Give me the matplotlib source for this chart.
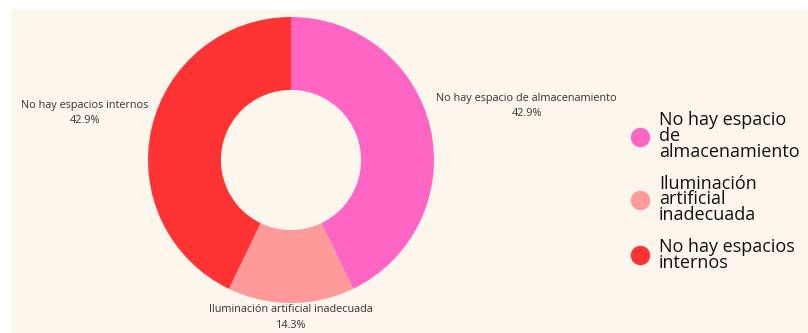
import numpy as np
import matplotlib
matplotlib.use("Agg")
import matplotlib.pyplot as plt
from matplotlib.lines import Line2D

categories = ["No hay espacio de almacenamiento",
              "Iluminación artificial inadecuada",
              "No hay espacios internos"]
legend_labels = ["No hay espacio\nde\nalmacenamiento",
                 "Iluminación\nartificial\ninadecuada",
                 "No hay espacios\ninternos"]
values = [42.9, 14.3, 42.9]
colors = ["#FF66C4", "#FF9A9A", "#FF3333"]
label_dist = [1.69, 1.10, 1.48]

bg = "#FDF6EC"
plt.rcParams['font.family'] = ['Open Sans', 'DejaVu Sans']

fig = plt.figure(figsize=(8.08, 3.33), dpi=100)
fig.patch.set_facecolor("white")

# cream panel behind everything
bgax = fig.add_axes([11 / 808, 0, 1 - 11 / 808, 323 / 333], zorder=-1)
bgax.set_facecolor(bg)
bgax.set_xticks([])
bgax.set_yticks([])
for s in bgax.spines.values():
    s.set_visible(False)

ax = fig.add_axes([148 / 808, 30 / 333, 286 / 808, 286 / 333])
ax.set_facecolor("none")
wedges, _ = ax.pie(values, colors=colors, startangle=90, counterclock=False,
                   radius=1.0, wedgeprops=dict(width=0.51, edgecolor="none"))
ax.set_xlim(-1, 1)
ax.set_ylim(-1, 1)
ax.set_aspect("equal")
ax.axis("off")

for w, name, v, d in zip(wedges, categories, values, label_dist):
    ang = np.deg2rad((w.theta1 + w.theta2) / 2)
    ax.text(d * np.cos(ang), d * np.sin(ang), "%s\n%.1f%%" % (name, v),
            ha="center", va="center", fontsize=7.8, color="#333333",
            linespacing=1.55, clip_on=False)

handles = [Line2D([0], [0], marker="o", linestyle="none", markersize=14,
                  markerfacecolor=c, markeredgecolor="none") for c in colors]
leg = fig.legend(handles, legend_labels, loc="center left",
                 bbox_to_anchor=(612 / 808, 0.425), frameon=False,
                 fontsize=13, handletextpad=0.4, labelspacing=0.75,
                 handlelength=1.3)
for t in leg.get_texts():
    t.set_linespacing(0.85)
    t.set_color("#111111")

fig.savefig("out.png", dpi=100, facecolor=fig.get_facecolor())
